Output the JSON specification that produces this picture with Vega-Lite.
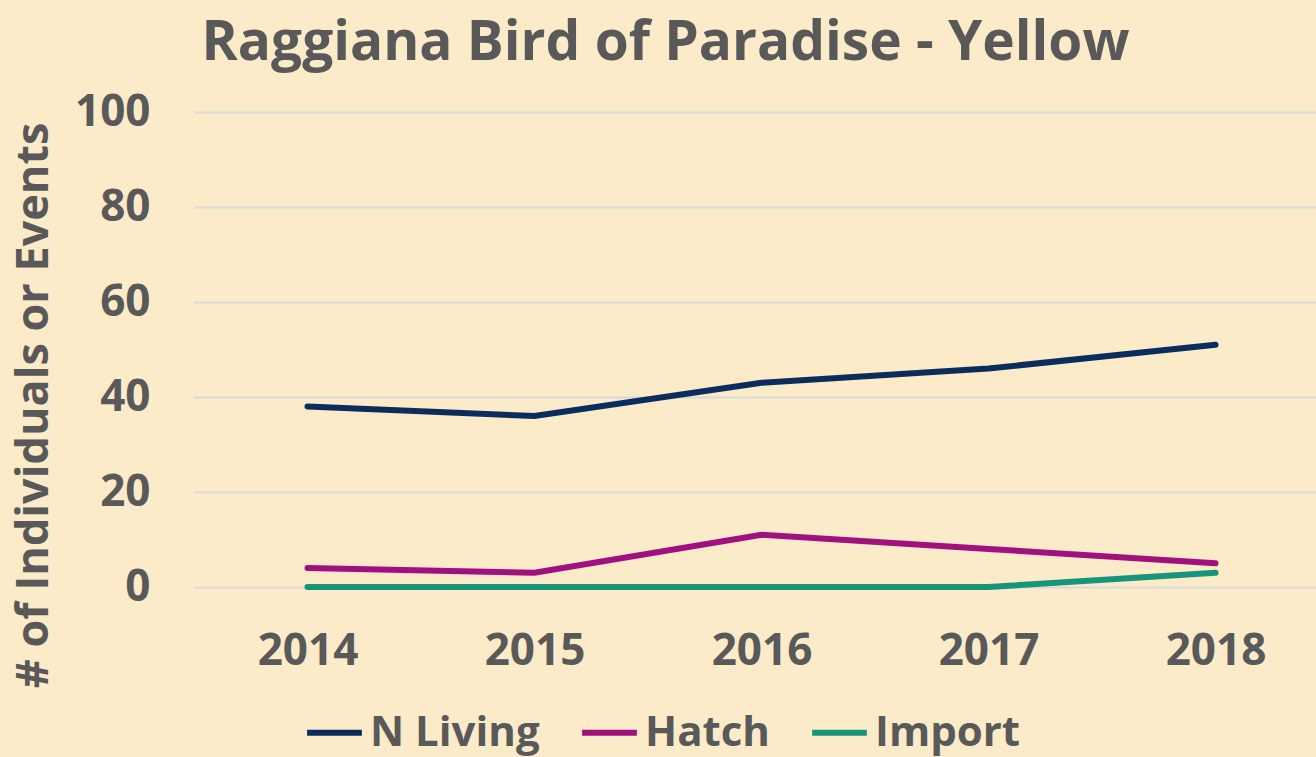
{
  "$schema": "https://vega.github.io/schema/vega-lite/v6.json",
  "width": 1135,
  "height": 475,
  "autosize": {"type": "none"},
  "padding": {"left": 194, "top": 112, "right": 0, "bottom": 170},
  "background": "#FBEBC8",
  "title": {
    "text": "Raggiana Bird of Paradise - Yellow",
    "frame": "group",
    "anchor": "middle",
    "dx": -96,
    "offset": 18,
    "fontSize": 55,
    "font": "Open Sans",
    "fontWeight": "bold",
    "color": "#595959"
  },
  "config": {
    "view": {"stroke": null},
    "font": "Open Sans"
  },
  "data": {
    "values": [
      {"year": "2014", "series": "N Living", "value": 38},
      {"year": "2015", "series": "N Living", "value": 36},
      {"year": "2016", "series": "N Living", "value": 43},
      {"year": "2017", "series": "N Living", "value": 46},
      {"year": "2018", "series": "N Living", "value": 51},
      {"year": "2014", "series": "Hatch", "value": 4},
      {"year": "2015", "series": "Hatch", "value": 3},
      {"year": "2016", "series": "Hatch", "value": 11},
      {"year": "2017", "series": "Hatch", "value": 8},
      {"year": "2018", "series": "Hatch", "value": 5},
      {"year": "2014", "series": "Import", "value": 0},
      {"year": "2015", "series": "Import", "value": 0},
      {"year": "2016", "series": "Import", "value": 0},
      {"year": "2017", "series": "Import", "value": 0},
      {"year": "2018", "series": "Import", "value": 3}
    ]
  },
  "mark": {"type": "line", "strokeWidth": 6, "strokeCap": "round"},
  "encoding": {
    "x": {
      "field": "year",
      "type": "ordinal",
      "scale": {"type": "point", "padding": 0.5},
      "axis": {
        "title": null,
        "labelAngle": 0,
        "labelFontSize": 44,
        "labelFont": "Open Sans",
        "labelFontWeight": "bold",
        "labelColor": "#595959",
        "labelPadding": 42,
        "ticks": false,
        "domain": false,
        "grid": false
      }
    },
    "y": {
      "field": "value",
      "type": "quantitative",
      "scale": {"domain": [0, 100]},
      "axis": {
        "title": "# of Individuals or Events",
        "titleFontSize": 45,
        "titleFont": "Open Sans",
        "titleFontWeight": "bold",
        "titleColor": "#595959",
        "titlePadding": 18,
        "titleY": 293,
        "values": [0, 20, 40, 60, 80, 100],
        "labelFontSize": 44,
        "labelFont": "Open Sans",
        "labelFontWeight": "bold",
        "labelColor": "#595959",
        "labelPadding": 44,
        "ticks": false,
        "domain": false,
        "grid": true,
        "gridColor": "#D9D9D9",
        "gridWidth": 2
      }
    },
    "color": {
      "field": "series",
      "type": "nominal",
      "sort": ["N Living", "Hatch", "Import"],
      "scale": {"domain": ["N Living", "Hatch", "Import"], "range": ["#0B2D5E", "#A0117F", "#17957A"]},
      "legend": {
        "title": null,
        "orient": "none",
        "direction": "horizontal",
        "legendX": 110,
        "legendY": 590,
        "symbolType": "stroke",
        "symbolSize": 3000,
        "symbolStrokeWidth": 6,
        "labelFontSize": 42,
        "labelLimit": 400,
        "labelFont": "Open Sans",
        "labelFontWeight": "bold",
        "labelColor": "#595959",
        "labelOffset": 5,
        "columnPadding": 30
      }
    }
  }
}
